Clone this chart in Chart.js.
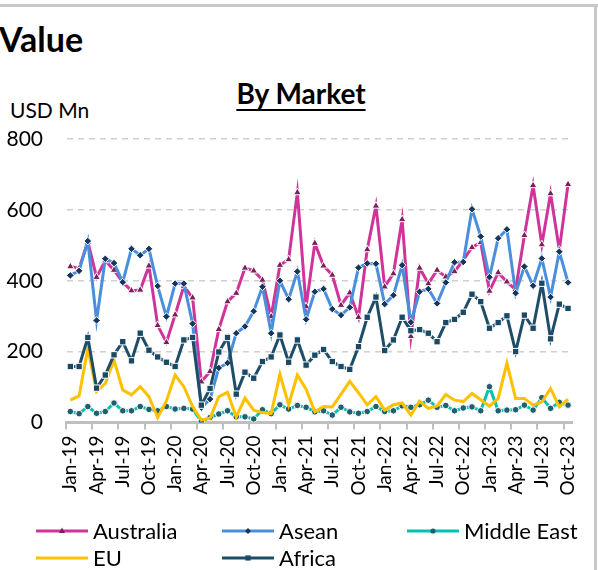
<!DOCTYPE html>
<html>
<head>
<meta charset="utf-8">
<script src="https://cdn.jsdelivr.net/npm/chart.js"></script>
<style>
  body { margin: 0; background: #fff; }
  #wrap { position: relative; width: 598px; height: 570px; overflow: hidden; font-family: Lato, "Open Sans", sans-serif; color: #000; }
  #frameTop { position: absolute; left: 0; top: 4px; width: 598px; height: 3px; background: #c8c8c8; }
  #frameRight { position: absolute; left: 594px; top: 4px; width: 3px; height: 566px; background: #c8c8c8; }
  .txt { position: absolute; line-height: 1; white-space: nowrap; }
  #title { left: -1px; top: 22px; font-size: 34px; font-weight: bold; }
  #sub { left: 0; width: 602px; text-align: center; top: 79px; font-size: 28px; font-weight: bold; text-decoration: underline; text-decoration-thickness: 2px; text-underline-offset: 5px; }
  #unit { left: 10px; top: 99px; font-size: 21px; }
  canvas { position: absolute; left: 0; top: 0; }
</style>
</head>
<body>
<div id="wrap">
  <div id="frameTop"></div>
  <div id="frameRight"></div>
  <div class="txt" id="title">Value</div>
  <div class="txt" id="sub">By Market</div>
  <div class="txt" id="unit">USD Mn</div>
  <canvas id="myChart" width="598" height="570"></canvas>
</div>
<script>
const months = [
  'Jan-19','Feb-19','Mar-19','Apr-19','May-19','Jun-19','Jul-19','Aug-19','Sep-19','Oct-19','Nov-19','Dec-19',
  'Jan-20','Feb-20','Mar-20','Apr-20','May-20','Jun-20','Jul-20','Aug-20','Sep-20','Oct-20','Nov-20','Dec-20',
  'Jan-21','Feb-21','Mar-21','Apr-21','May-21','Jun-21','Jul-21','Aug-21','Sep-21','Oct-21','Nov-21','Dec-21',
  'Jan-22','Feb-22','Mar-22','Apr-22','May-22','Jun-22','Jul-22','Aug-22','Sep-22','Oct-22','Nov-22','Dec-22',
  'Jan-23','Feb-23','Mar-23','Apr-23','May-23','Jun-23','Jul-23','Aug-23','Sep-23','Oct-23'
];

const australia = [440, 435, 510, 410, 457, 430, 396, 372, 374, 442, 274, 226,
  304, 385, 352, 115, 144, 263, 341, 365, 436, 428, 402, 299,
  444, 460, 649, 327, 506, 442, 416, 331, 366, 297, 488, 611,
  383, 420, 573, 243, 436, 392, 430, 411, 426, 458, 494, 508,
  371, 423, 397, 375, 528, 669, 502, 646, 487, 672];

const asean = [415, 428, 512, 288, 462, 450, 396, 490, 472, 490, 385, 299,
  392, 392, 279, 42, 66, 154, 168, 252, 271, 314, 383, 252,
  400, 348, 426, 291, 369, 377, 320, 303, 325, 437, 449, 448,
  334, 359, 444, 283, 369, 377, 336, 395, 452, 453, 602, 525,
  410, 520, 545, 365, 440, 386, 463, 354, 482, 395];

const middleEast = [31, 25, 45, 26, 31, 55, 33, 33, 45, 37, 33, 45,
  38, 40, 38, 4, 14, 24, 33, 16, 16, 10, 36, 25,
  50, 38, 48, 43, 30, 33, 21, 43, 30, 26, 31, 45,
  31, 33, 47, 43, 50, 63, 43, 48, 33, 41, 44, 33,
  101, 33, 35, 36, 49, 35, 70, 40, 57, 49];

const eu = [63, 75, 209, 87, 110, 176, 92, 78, 101, 73, 14, 61,
  134, 101, 45, 7, 12, 73, 85, 16, 69, 35, 28, 25,
  136, 50, 134, 94, 30, 45, 44, 80, 116, 84, 50, 73,
  35, 50, 55, 21, 60, 40, 47, 79, 63, 59, 82, 64,
  46, 68, 167, 68, 68, 49, 58, 96, 44, 66];

const africa = [158, 158, 240, 97, 134, 191, 228, 174, 252, 204, 185, 170,
  158, 233, 240, 49, 96, 199, 240, 80, 142, 125, 172, 185,
  247, 170, 233, 162, 190, 206, 172, 158, 150, 214, 297, 354,
  203, 233, 297, 259, 262, 252, 228, 282, 291, 311, 362, 341,
  266, 282, 301, 200, 303, 266, 393, 236, 334, 322];

const yTicks = [0, 200, 400, 600, 800];

function series(label, values, color, markerColor, style, radius, order) {
  return {
    label: label,
    data: values,
    borderColor: color,
    backgroundColor: color,
    borderWidth: 3,
    tension: 0,
    pointStyle: style,
    pointRadius: radius,
    pointHoverRadius: radius,
    pointBackgroundColor: markerColor,
    pointBorderColor: '#ffffff',
    pointBorderWidth: 1,
    markerColor: markerColor,
    order: order,
  };
}

const datasets = [
  series('Australia', australia, '#d0339a', '#7a2157', 'triangle', 4.4, 5),
  series('Asean', asean, '#4a8fdc', '#17365d', 'rectRot', 3.8, 4),
  series('Middle East', middleEast, '#00c2b2', '#20606e', 'circle', 3.3, 3),
  series('EU', eu, '#ffc000', '#ffc000', 'circle', 0, 2),
  series('Africa', africa, '#1f4d68', '#1a4966', 'rect', 4.5, 1),
];

// little marker for the legend, same shapes as on the lines
function legendMarker(ctx, style, x, y, color) {
  ctx.fillStyle = color;
  ctx.beginPath();
  if (style === 'triangle') {
    ctx.moveTo(x, y - 3.5); ctx.lineTo(x + 3, y + 2); ctx.lineTo(x - 3, y + 2);
  } else if (style === 'rectRot') {
    ctx.moveTo(x, y - 3); ctx.lineTo(x + 3, y); ctx.lineTo(x, y + 3); ctx.lineTo(x - 3, y);
  } else if (style === 'circle') {
    ctx.arc(x, y, 2.6, 0, Math.PI * 2);
  } else if (style === 'rect') {
    ctx.rect(x - 2.6, y - 2.6, 5.2, 5.2);
  }
  ctx.closePath();
  ctx.fill();
}

const bottomLegend = {
  id: 'bottomLegend',
  afterDraw(chart) {
    const ctx = chart.ctx;
    const slots = [[36, 531], [222, 531], [407, 531], [36, 558], [222, 558]];
    chart.data.datasets.forEach((ds, i) => {
      const x = slots[i][0], y = slots[i][1];
      ctx.save();
      ctx.strokeStyle = ds.borderColor;
      ctx.lineWidth = 3;
      ctx.beginPath();
      ctx.moveTo(x, y);
      ctx.lineTo(x + 52, y);
      ctx.stroke();
      if (ds.pointRadius > 0) legendMarker(ctx, ds.pointStyle, x + 26, y, ds.markerColor);
      ctx.fillStyle = '#000';
      ctx.font = '22px Lato';
      ctx.textBaseline = 'middle';
      ctx.fillText(ds.label, x + 57, y + 1);
      ctx.restore();
    });
  }
};

const config = {
  type: 'line',
  data: { labels: months, datasets: datasets },
  options: {
    responsive: false,
    animation: false,
    events: [],
    layout: { padding: { left: 0, right: 25.6, top: 139, bottom: 0 } },
    plugins: { legend: { display: false }, tooltip: { enabled: false } },
    scales: {
      x: {
        type: 'category',
        offset: true,
        afterFit(scale) { scale.height = 147.5; },
        border: { display: true, color: '#bfbfbf', width: 3 },
        grid: {
          offset: true,
          drawOnChartArea: false,
          drawTicks: true,
          tickLength: 7,
          lineWidth: 2,
          color: (c) => (c.index % 3 === 0 ? '#bfbfbf' : 'rgba(0,0,0,0)'),
        },
        ticks: {
          autoSkip: false,
          minRotation: 90,
          maxRotation: 90,
          padding: 6,
          color: '#000',
          font: { family: 'Lato', size: 19 },
          callback: (v, i) => (i % 3 === 0 ? months[i] : ''),
        },
      },
      y: {
        min: 0,
        max: 800,
        afterFit(scale) { scale.width = 66; },
        afterBuildTicks(scale) { scale.ticks = yTicks.map((v) => ({ value: v })); },
        grid: {
          drawTicks: false,
          color: (c) => (c.tick && c.tick.value === 0 ? 'rgba(0,0,0,0)' : '#d0d0d0'),
          lineWidth: 1.5,
        },
        border: { display: true, color: 'rgba(0,0,0,0)', width: 1, dash: [6, 5] },
        ticks: {
          padding: 23,
          color: '#000',
          font: { family: 'Lato', size: 21 },
        },
      },
    },
  },
  plugins: [bottomLegend],
};

const myChart = new Chart(document.getElementById('myChart'), config);
</script>
</body>
</html>
